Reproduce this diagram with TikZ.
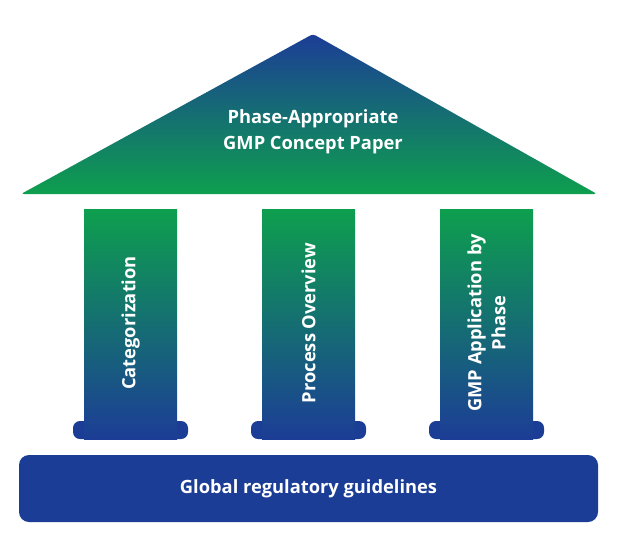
\documentclass[tikz,border=0pt]{standalone}
\usepackage{fontspec}
\setmainfont{Open Sans}
\usepackage{xcolor}
\usepackage{tikz}
\definecolor{pillarblue}{HTML}{1C3D96}
\definecolor{pillargreen}{HTML}{0E9F4E}
\tikzset{
  roof/.style={top color=pillarblue, bottom color=pillargreen, rounded corners=3pt},
  shaft/.style={top color=pillargreen, bottom color=pillarblue},
  plinth/.style={fill=pillarblue, rounded corners=7pt},
  lbl/.style={text=white, font=\bfseries\fontsize{18.3}{24}\selectfont, align=center, inner sep=0pt},
}

\begin{document}
\begin{tikzpicture}[x=1pt, y=-1pt]

  \useasboundingbox[fill=white] (0,0) rectangle (617,536);

  % roof
  \shade[roof] (313,34) -- (597,194) -- (21,194) -- cycle;
  \node[lbl, font=\bfseries\fontsize{18.3}{26}\selectfont] (title) at (313,132)
      {Phase-Appropriate\\GMP Concept Paper};

  % pillars
  \foreach \x/\name/\txt in {84/cat/Categorization,
                            262/proc/Process Overview,
                            440/app/{GMP Application by\\Phase}} {
    \fill[plinth] (\x-11,421) rectangle (\x+104,439);
    \shade[shaft] (\x,209) rectangle (\x+93,439);
    \node[lbl, rotate=90] (\name) at (\x+46.5,323) {\txt};
  }

  % base
  \fill[plinth, rounded corners=10pt] (19,455) rectangle (598,522);
  \node[lbl] (base) at (308.5,489) {Global regulatory guidelines};

\end{tikzpicture}
\end{document}
